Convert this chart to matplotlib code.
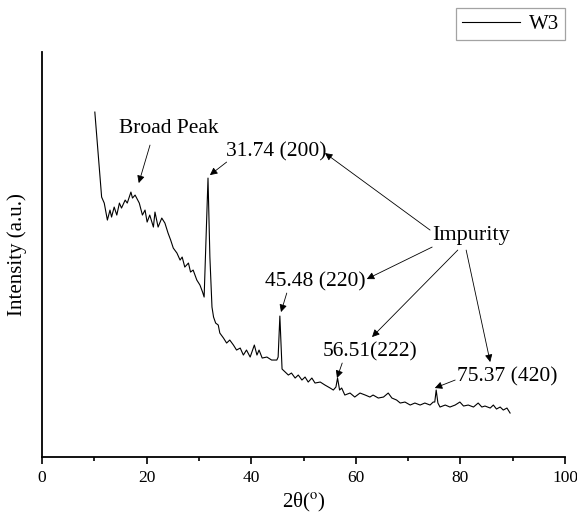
import matplotlib
matplotlib.use("Agg")
import matplotlib.pyplot as plt

plt.rcParams['font.family'] = ['Liberation Serif', 'DejaVu Serif']
plt.rcParams['mathtext.fontset'] = 'stix'

# XRD pattern of sample W3 (2-theta in degrees, intensity in arbitrary units)
two_theta = [10.1, 11.4, 11.9, 12.5, 13.0, 13.3, 13.8, 14.3, 14.8, 15.2,
             15.9, 16.3, 17.0, 17.3, 17.8, 18.6, 19.2, 19.7, 20.1, 20.6,
             21.3, 21.6, 22.2, 22.9, 23.5, 24.1, 24.6, 25.1, 25.8, 26.4,
             26.8, 27.3, 28.0, 28.4, 28.9, 29.6, 30.2, 30.7, 31.0, 31.74,
             32.1, 32.5, 32.8, 33.2, 33.7, 34.0, 34.7, 35.3, 35.9, 36.6,
             37.2, 37.9, 38.5, 39.1, 39.8, 40.6, 41.1, 41.5, 42.1, 43.0,
             43.9, 44.9, 45.15, 45.48, 45.9, 46.5, 47.1, 47.7, 48.4, 49.0,
             49.7, 50.3, 50.9, 51.6, 52.2, 53.2, 54.1, 55.1, 55.7, 56.2,
             56.51, 56.9, 57.3, 57.9, 58.9, 59.8, 60.8, 61.8, 62.7, 63.3,
             64.3, 65.3, 66.2, 66.9, 67.8, 68.5, 69.4, 70.4, 71.3, 72.3,
             73.2, 74.2, 74.8, 75.1, 75.37, 75.7, 76.1, 77.1, 78.0, 79.0,
             79.9, 80.6, 81.5, 82.5, 83.4, 84.1, 84.7, 85.7, 86.3, 86.9,
             87.6, 88.2, 88.9, 89.5]
intensity = [345, 260, 254, 237, 247, 240, 250, 242, 254, 249,
             257, 254, 265, 259, 262, 254, 242, 247, 235, 242,
             230, 245, 230, 239, 234, 224, 217, 209, 204, 197,
             200, 190, 194, 185, 187, 177, 172, 165, 160, 279,
             200, 150, 140, 134, 132, 124, 119, 114, 117, 112,
             107, 109, 102, 107, 100, 112, 102, 107, 99, 100,
             97, 97, 100, 141, 88, 85, 82, 84, 79, 82,
             77, 80, 75, 79, 74, 75, 72, 69, 67, 70,
             79, 67, 69, 62, 64, 60, 64, 62, 60, 62,
             59, 60, 64, 59, 57, 54, 55, 52, 54, 52,
             54, 52, 55, 55, 67, 54, 50, 52, 50, 52,
             55, 51, 52, 50, 54, 50, 51, 49, 52, 48,
             50, 47, 49, 44]

fig = plt.figure(figsize=(5.77, 5.21), dpi=100)
ax = fig.add_axes([0.0728, 0.1228, 0.9064, 0.7772])

ax.plot(two_theta, intensity, color='black', lw=0.8, label='W3')

ax.set_xlim(0, 100)
ax.set_ylim(0, 405)
ax.set_xticks([0, 20, 40, 60, 80, 100])
ax.set_xticks([10, 30, 50, 70, 90], minor=True)
ax.set_yticks([])
ax.tick_params(axis='x', which='major', direction='out', length=5, width=1.2,
               labelsize=12.5, pad=4)
ax.tick_params(axis='x', which='minor', direction='out', length=3, width=1.2)
for side in ('top', 'right'):
    ax.spines[side].set_visible(False)
for side in ('left', 'bottom'):
    ax.spines[side].set_linewidth(1.3)

ax.set_xlabel(r'2θ($^{\mathrm{o}}$)', fontsize=15, labelpad=4)
ax.set_ylabel('Intensity (a.u.)', fontsize=15, labelpad=11)

# peak labels
fs = 15.5
ax.text(24.2, 329, 'Broad Peak', fontsize=fs, ha='center', va='center')
ax.text(44.7, 305, '31.74 (200)', fontsize=fs, ha='center', va='center')
ax.text(82.0, 222, 'Impurity', fontsize=16, ha='center', va='center')
ax.text(52.2, 175, '45.48 (220)', fontsize=fs, ha='center', va='center')
ax.text(62.7, 105, '56.51(222)', fontsize=fs, ha='center', va='center')
ax.text(88.9, 80, '75.37 (420)', fontsize=fs, ha='center', va='center')

arrows = [
    ((20.65, 312), (18.5, 274)),
    ((35.3, 295), (32.1, 282)),
    ((74.2, 227), (54.1, 304)),
    ((74.6, 210), (62.1, 178)),
    ((79.5, 207), (63.1, 120)),
    ((81.1, 207), (85.7, 95)),
    ((46.8, 164), (45.7, 145)),
    ((57.4, 94), (56.4, 79)),
    ((79.0, 77), (75.1, 69)),
]
for tail, tip in arrows:
    ax.annotate('', xy=tip, xytext=tail,
                arrowprops=dict(arrowstyle='-|>', color='black', lw=0.6,
                                mutation_scale=11, shrinkA=0, shrinkB=0))

leg = ax.legend(loc='upper right', bbox_to_anchor=(565 / 577, 1 - 8 / 521),
                bbox_transform=fig.transFigure, fontsize=15, frameon=True,
                fancybox=False, handlelength=2.8, borderpad=0.3,
                handletextpad=0.4, borderaxespad=0)
leg.get_frame().set_edgecolor('0.55')
leg.get_frame().set_linewidth(0.9)

fig.savefig('out.png', dpi=100)
